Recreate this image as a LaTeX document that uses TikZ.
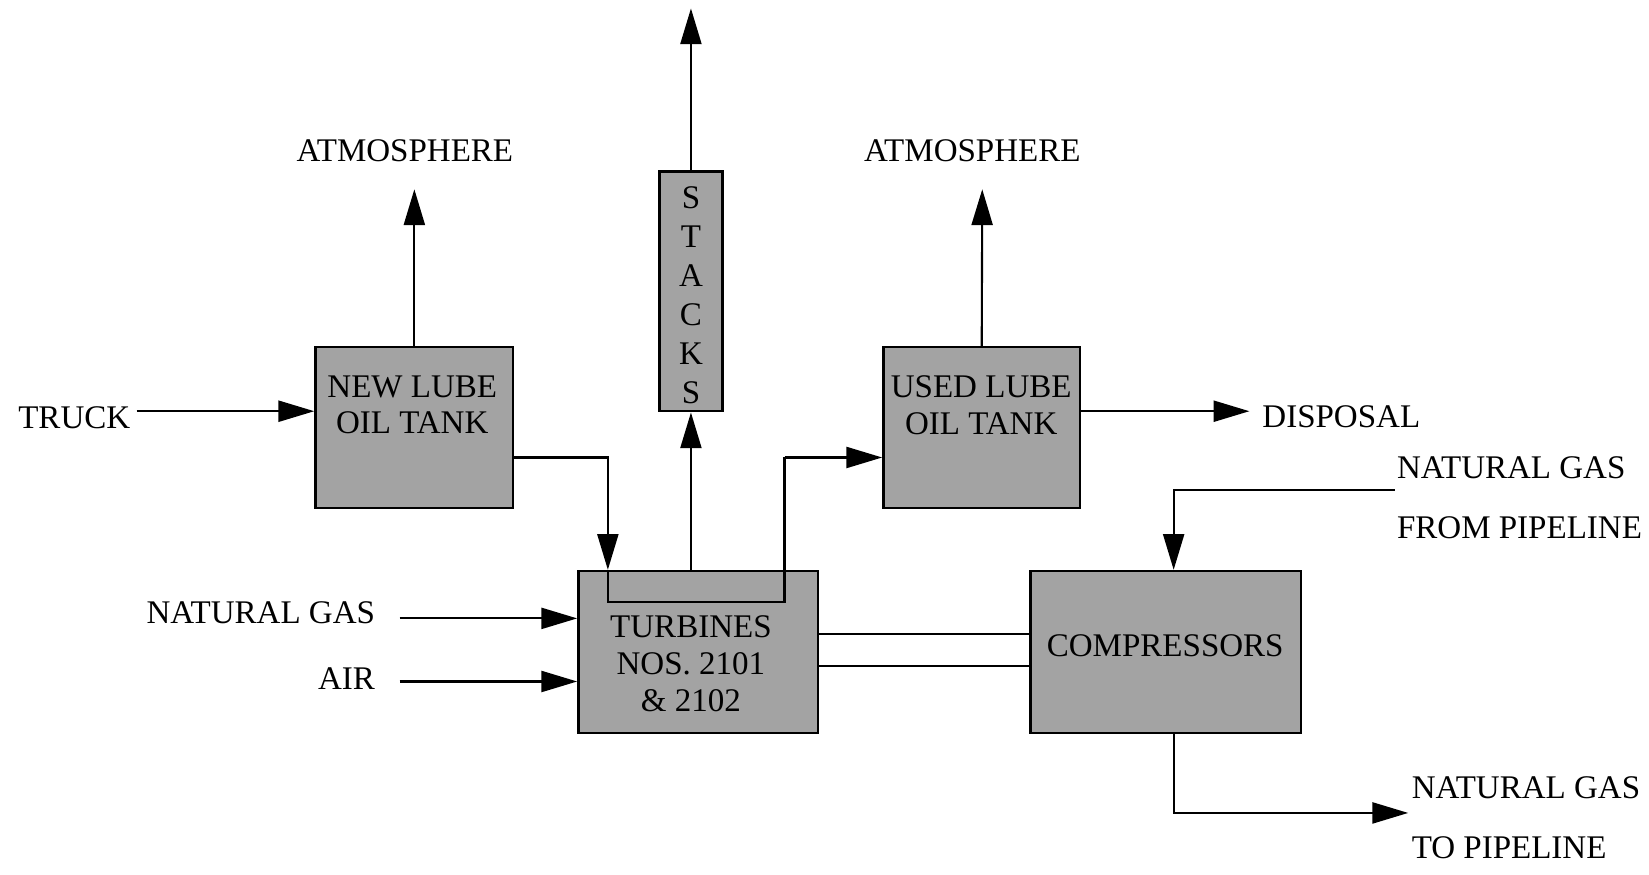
\documentclass[tikz,border=0pt]{standalone}
\usepackage{fontspec}
\setmainfont{Liberation Serif}
\usetikzlibrary{arrows.meta}
\definecolor{boxgray}{gray}{0.64}
\begin{document}
\begin{tikzpicture}[x=0.5pt,y=-0.5pt,
  box/.style={draw=black, line width=1.2pt, fill=boxgray, inner sep=0pt},
  lbl/.style={inner sep=0pt, align=center, font=\fontsize{15.7}{17.5}\selectfont},
  wire/.style={line width=1pt},
  arr/.style={line width=1pt, -{Triangle[length=17pt,width=10pt]}}]
\useasboundingbox (0,0) rectangle (1568,832);

% boxes
\node[box, minimum width=94pt, minimum height=76.5pt] (newlube) at (394,406.5) {};
\node[box, minimum width=30pt, minimum height=114pt] (stacks) at (657,277) {};
\node[box, minimum width=114pt, minimum height=77pt] (turbine) at (664,620) {};
\node[box, minimum width=93.5pt, minimum height=76.5pt] (usedlube) at (933.5,406.5) {};
\node[box, minimum width=128.5pt, minimum height=77pt] (compressors) at (1108.5,620) {};

% coordinates
\coordinate (truckA) at (130,391);
\coordinate (atmLtip) at (394,180);
\coordinate (atmRtip) at (934,180);
\coordinate (stackTip) at (657,8);
\coordinate (j1) at (578,435);
\coordinate (j2) at (578,572);
\coordinate (j3) at (746,572);
\coordinate (j4) at (746,435);
\coordinate (dispT) at (1188,391);
\coordinate (ngin) at (1326,466);
\coordinate (j5) at (1116,466);
\coordinate (j6) at (1116,773);
\coordinate (ngout) at (1339,773);
\coordinate (ngL) at (380,588);
\coordinate (airL) at (380,648);
\coordinate (s1) at (778,603);
\coordinate (s2) at (778,633);

% connectors
\draw[arr] (truckA) -- (truckA -| newlube.west);
\draw[arr] (newlube.north) -- (atmLtip);
\draw[arr] (stacks.north) -- (stackTip);
\draw[arr] (turbine.north -| stacks.south) -- (stacks.south);
\draw[arr] (newlube.east |- j1) -- (j1) -- (j1 |- turbine.north);
\draw[wire] (j1 |- turbine.north) -- (j2) -- (j3) -- (j4);
\draw[arr] (j4) -- (j4 -| usedlube.west);
\draw[arr] (usedlube.north) -- (atmRtip);
\draw[arr] (usedlube.east |- dispT) -- (dispT);
\draw[arr] (ngin) -- (j5) -- (j5 |- compressors.north);
\draw[arr] (j6 |- compressors.south) -- (j6) -- (ngout);
\draw[wire] (turbine.east |- s1) -- (compressors.west |- s1);
\draw[wire] (turbine.east |- s2) -- (compressors.west |- s2);
\draw[arr] (ngL) -- (ngL -| turbine.west);
\draw[arr] (airL) -- (airL -| turbine.west);

% texts
\node[lbl, anchor=west] (truck) at (17,397) {TRUCK};
\node[lbl] (atmL) at (385,143) {ATMOSPHERE};
\node[lbl] (atmR) at (924.5,143) {ATMOSPHERE};
\node[lbl, font=\fontsize{15.7}{18.5}\selectfont] (stackstxt) at (657,280.5) {S\\T\\A\\C\\K\\S};
\node[lbl] (newlubetxt) at (392,385) {NEW LUBE\\OIL TANK};
\node[lbl] (usedlubetxt) at (933,385) {USED LUBE\\OIL TANK};
\node[lbl] (turbinetxt) at (657,631) {TURBINES\\NOS. 2101\\\& 2102};
\node[lbl] (comptxt) at (1108,614) {COMPRESSORS};
\node[lbl, anchor=west] (disposal) at (1200,396) {DISPOSAL};
\node[lbl, anchor=west, align=left, font=\fontsize{15.7}{28.5}\selectfont] (ngfrom) at (1328,473.5) {NATURAL GAS\\FROM PIPELINE};
\node[lbl, anchor=west, align=left, font=\fontsize{15.7}{28.5}\selectfont] (ngto) at (1342,777.5) {NATURAL GAS\\TO PIPELINE};
\node[lbl, anchor=east] (ngleft) at (357,583) {NATURAL GAS};
\node[lbl, anchor=east] (air) at (357,645) {AIR};
\end{tikzpicture}
\end{document}
